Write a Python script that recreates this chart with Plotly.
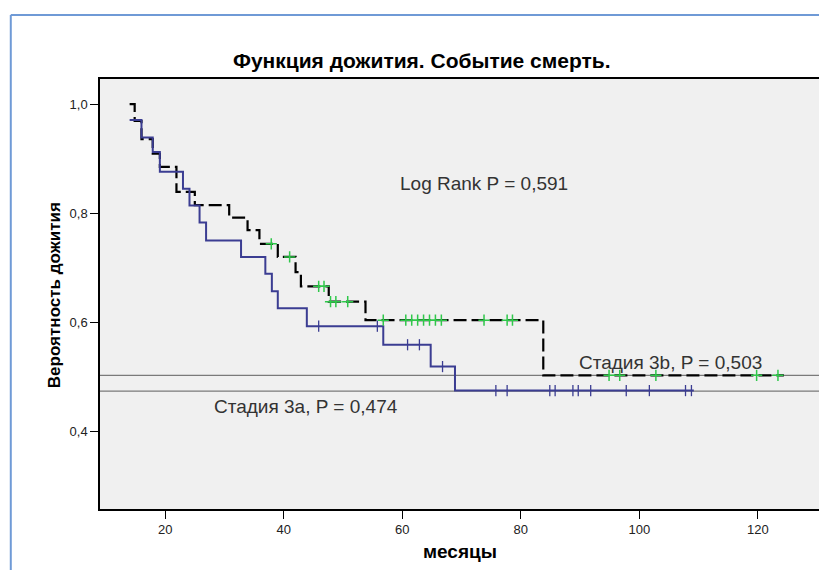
import plotly.graph_objects as go

# ---- data ----
# Stage 3b (black dashed)
t_3b = [14.0, 14.85, 16.0, 17.9, 19.1, 21.9, 25.0, 30.8, 33.9, 35.9, 39.0, 42.0, 42.9, 47.6, 53.8, 83.8, 124.4]
s_3b = [1.0, 0.969, 0.936, 0.909, 0.885, 0.839, 0.815, 0.792, 0.769, 0.744, 0.720, 0.692, 0.666, 0.638, 0.604, 0.503, 0.503]
cens_t_3b = [37.9, 41.0, 45.9, 46.8, 47.9, 48.8, 50.8, 56.8, 60.6, 61.6, 62.6, 63.6, 64.6, 65.6, 66.6, 73.8, 77.7, 78.6,
             94.9, 96.7, 102.8, 119.8, 123.4]
cens_s_3b = [0.744, 0.720, 0.666, 0.666, 0.638, 0.638, 0.638, 0.604, 0.604, 0.604, 0.604, 0.604, 0.604, 0.604, 0.604,
             0.604, 0.604, 0.604, 0.503, 0.503, 0.503, 0.503, 0.503]

# Stage 3a (blue solid)
t_3a = [14.0, 16.0, 17.9, 19.1, 23.0, 24.1, 25.8, 26.9, 32.8, 36.9, 38.0, 39.0, 43.9, 56.8, 64.8, 68.9, 109.2]
s_3a = [0.971, 0.939, 0.912, 0.876, 0.845, 0.814, 0.783, 0.750, 0.720, 0.689, 0.657, 0.626, 0.593, 0.559, 0.519, 0.475, 0.475]
cens_t_3a = [45.9, 55.8, 60.9, 62.9, 66.8, 75.8, 77.7, 84.9, 85.8, 88.8, 89.7, 91.8, 97.8, 101.7, 107.8, 108.8]
cens_s_3a = [0.593, 0.593, 0.559, 0.559, 0.519, 0.475, 0.475, 0.475, 0.475, 0.475, 0.475, 0.475, 0.475, 0.475, 0.475, 0.475]

ref_lines = [0.503, 0.474]
x_ticks = [20, 40, 60, 80, 100, 120]
y_ticks = [0.4, 0.6, 0.8, 1.0]
y_tick_text = ["0,4", "0,6", "0,8", "1,0"]

title_text = "Функция дожития. Событие смерть."
x_title = "месяцы"
y_title = "Вероятность дожития"
logrank_text = "Log Rank P = 0,591"
label_3b = "Стадия 3b, P = 0,503"
label_3a = "Стадия 3a, P = 0,474"

FONT = "Liberation Sans, Arial, sans-serif"
BLUE = "#3b3d92"
GREEN = "#2fc84a"

fig = go.Figure()

fig.add_trace(go.Scatter(x=t_3b, y=s_3b, mode="lines", line=dict(shape="hv", color="black", width=2.2, dash="13px,5px"),
                         hoverinfo="skip", showlegend=False))
fig.add_trace(go.Scatter(x=t_3a, y=s_3a, mode="lines", line=dict(shape="hv", color=BLUE, width=2),
                         hoverinfo="skip", showlegend=False))
fig.add_trace(go.Scatter(x=cens_t_3b, y=cens_s_3b, mode="markers",
                         marker=dict(symbol="cross-thin", size=8, line=dict(color=GREEN, width=1.5)),
                         hoverinfo="skip", showlegend=False))
fig.add_trace(go.Scatter(x=cens_t_3a, y=cens_s_3a, mode="markers",
                         marker=dict(symbol="line-ns", size=8, line=dict(color=BLUE, width=1.3)),
                         hoverinfo="skip", showlegend=False))

for v in ref_lines:
    fig.add_shape(type="line", xref="paper", yref="y", x0=0, x1=1, y0=v, y1=v,
                  line=dict(color="#7a7a7a", width=1.3), layer="below")

# outer light-blue frame
fig.add_shape(type="line", xref="paper", yref="paper", x0=-0.1234, x1=-0.1234, y0=-0.16, y1=1.1488,
              line=dict(color="#6f9ad6", width=2))
fig.add_shape(type="line", xref="paper", yref="paper", x0=-0.1234, x1=1.01, y0=1.1488, y1=1.1488,
              line=dict(color="#6f9ad6", width=2))

ann_font = dict(family=FONT, size=19, color="#333333")
fig.add_annotation(x=73.8, y=0.854, text=logrank_text, showarrow=False, font=ann_font)
fig.add_annotation(x=105.3, y=0.527, text=label_3b, showarrow=False, font=ann_font)
fig.add_annotation(x=43.7, y=0.445, text=label_3a, showarrow=False, font=ann_font)

fig.add_annotation(xref="paper", yref="paper", x=0.4455, y=1.044, xanchor="center", yanchor="middle",
                   text="<b>" + title_text + "</b>", showarrow=False,
                   font=dict(family=FONT, size=21, color="black"))
fig.add_annotation(xref="paper", yref="paper", x=0.498, y=-0.0977, xanchor="center", yanchor="middle",
                   text="<b>" + x_title + "</b>", showarrow=False,
                   font=dict(family=FONT, size=19, color="black"))
fig.add_annotation(xref="paper", yref="paper", x=-0.062, y=0.4977, xanchor="center", yanchor="middle",
                   text="<b>" + y_title + "</b>", showarrow=False,
                   textangle=-90, font=dict(family=FONT, size=17, color="black"))

# page body adds an 8px offset, so the figure is 8px smaller and shifted accordingly
fig.update_layout(
    width=819, height=562,
    margin=dict(l=92, r=2, t=71, b=61),
    paper_bgcolor="white", plot_bgcolor="#f0f0f0",
    xaxis=dict(range=[9, 131], tickvals=x_ticks, ticks="outside", ticklen=8, tickcolor="black",
               showgrid=False, zeroline=False, showline=True, linecolor="black", linewidth=1.5, mirror=True,
               tickfont=dict(family=FONT, size=13, color="#222222")),
    yaxis=dict(range=[0.258, 1.046], tickvals=y_ticks, ticktext=y_tick_text, ticks="outside", ticklen=8,
               tickcolor="black", showgrid=False, zeroline=False, showline=True, linecolor="black", linewidth=1.5,
               mirror=True, tickfont=dict(family=FONT, size=13, color="#222222")),
)

fig.write_html("out.html")
